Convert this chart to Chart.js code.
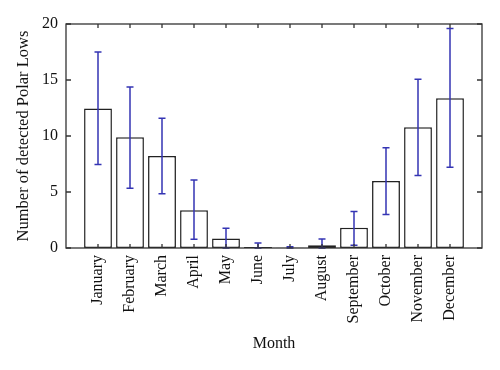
<!DOCTYPE html>
<html>
<head>
<meta charset="utf-8">
<script src="https://cdn.jsdelivr.net/npm/chart.js@4.4.1/dist/chart.umd.min.js"></script>
<style>
  html, body { margin: 0; padding: 0; background: #fff; }
  #wrap { width: 500px; height: 370px; }
</style>
</head>
<body>
<div id="wrap"><canvas id="polar-chart"></canvas></div>
<script>
//Chart data
const months = ['January', 'February', 'March', 'April', 'May', 'June',
                'July', 'August', 'September', 'October', 'November', 'December'];
const meanLows = [12.45, 9.88, 8.22, 3.38, 0.84, 0.10, 0.03, 0.24, 1.80, 5.99, 10.78, 13.38];
const errHigh  = [17.5, 14.37, 11.59, 6.08, 1.77, 0.45, 0.12, 0.81, 3.26, 8.95, 15.06, 19.6];
const errLow   = [7.46, 5.33, 4.85, 0.78, 0, 0, 0, 0, 0.24, 2.99, 6.47, 7.2];
const yTicks   = [0, 5, 10, 15, 20];

// empty slots on both sides so the months sit one step in from the frame
const labels = [''].concat(months, ['']);
const barData = [null].concat(meanLows, [null]);

const serif = "'Liberation Serif', 'DejaVu Serif', serif";
const frameColor = '#333';

//Error bars + boxed frame with inside ticks
const errorBarPlugin = {
    id: 'errorBars',
    afterDatasetsDraw(chart) {
        const ctx = chart.ctx;
        const x = chart.scales.x, y = chart.scales.y;
        ctx.save();
        ctx.strokeStyle = '#3434b4';
        ctx.lineWidth = 1.5;
        months.forEach((m, i) => {
            const px = x.getPixelForValue(i + 1);
            const top = y.getPixelForValue(errHigh[i]);
            const bot = y.getPixelForValue(errLow[i]);
            ctx.beginPath();
            ctx.moveTo(px, top); ctx.lineTo(px, bot);
            ctx.moveTo(px - 3.5, top); ctx.lineTo(px + 3.5, top);
            ctx.moveTo(px - 3.5, bot); ctx.lineTo(px + 3.5, bot);
            ctx.stroke();
        });
        ctx.restore();
    },
    afterDraw(chart) {
        const ctx = chart.ctx;
        const a = chart.chartArea;
        const x = chart.scales.x, y = chart.scales.y;
        ctx.save();
        ctx.strokeStyle = frameColor;
        ctx.lineWidth = 1.3;
        ctx.strokeRect(a.left, a.top, a.right - a.left, a.bottom - a.top);
        ctx.beginPath();
        yTicks.forEach(v => {
            const py = y.getPixelForValue(v);
            ctx.moveTo(a.left, py); ctx.lineTo(a.left + 5, py);
            ctx.moveTo(a.right, py); ctx.lineTo(a.right - 5, py);
        });
        months.forEach((m, i) => {
            const px = x.getPixelForValue(i + 1);
            ctx.moveTo(px, a.top); ctx.lineTo(px, a.top + 4);
            ctx.moveTo(px, a.bottom); ctx.lineTo(px, a.bottom - 4);
        });
        ctx.stroke();
        ctx.restore();
    }
};

window.addEventListener('DOMContentLoaded', () => {
    const ctx = document.getElementById('polar-chart').getContext('2d');
    new Chart(ctx, {
        type: 'bar',
        data: {
            labels: labels,
            datasets: [{
                data: barData,
                backgroundColor: '#ffffff',
                borderColor: '#222',
                borderWidth: 1.5,
                borderSkipped: false,
                categoryPercentage: 1,
                barPercentage: 0.87
            }]
        },
        options: {
            responsive: true,
            maintainAspectRatio: false,
            animation: false,
            layout: { padding: { top: 24, right: 18, left: 0, bottom: 0 } },
            plugins: {
                legend: { display: false },
                tooltip: { enabled: false }
            },
            scales: {
                x: {
                    offset: false,
                    grid: { display: false, drawTicks: false },
                    border: { display: false },
                    ticks: {
                        autoSkip: false,
                        minRotation: 90,
                        maxRotation: 90,
                        padding: 7,
                        color: '#111',
                        font: { family: serif, size: 16 }
                    },
                    title: {
                        display: true,
                        text: 'Month',
                        color: '#111',
                        font: { family: serif, size: 16 },
                        padding: { top: 0, bottom: 17 }
                    },
                    afterFit(scale) {
                        scale.height = 122;
                        scale.paddingLeft = 0;
                        scale.paddingRight = 0;
                    }
                },
                y: {
                    min: 0,
                    max: 20,
                    grid: { display: false, drawTicks: false },
                    border: { display: false },
                    afterBuildTicks(scale) { scale.ticks = yTicks.map(v => ({ value: v })); },
                    ticks: {
                        padding: 8,
                        color: '#111',
                        font: { family: serif, size: 16 }
                    },
                    title: {
                        display: true,
                        text: 'Number of detected Polar Lows',
                        color: '#111',
                        font: { family: serif, size: 16.5 },
                        padding: { top: 14, bottom: 0 }
                    },
                    afterFit(scale) { scale.width = 66; }
                }
            }
        },
        plugins: [errorBarPlugin]
    });
});
</script>
</body>
</html>
